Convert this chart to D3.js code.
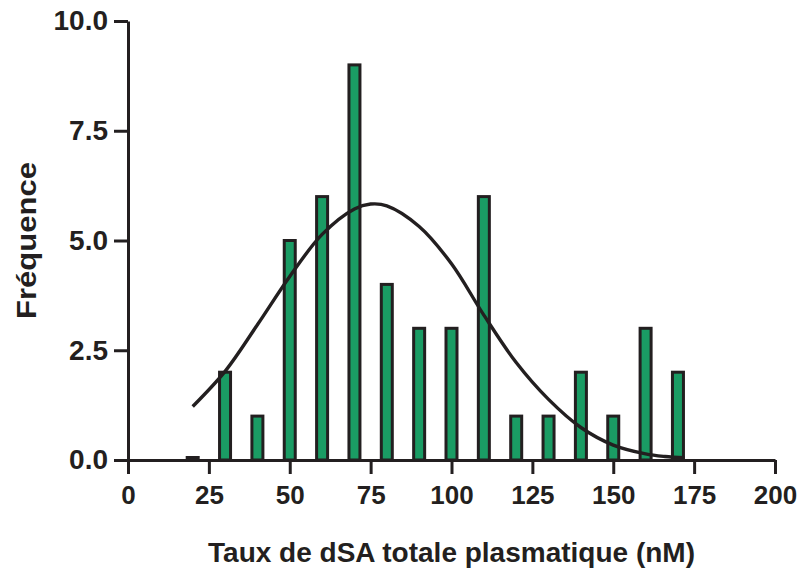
<!DOCTYPE html>
<html>
<head>
<meta charset="utf-8">
<script src="https://cdn.jsdelivr.net/npm/d3@7"></script>
<style>
  html, body { margin: 0; padding: 0; background: #ffffff; }
  svg { display: block; }
  text { font-family: "Liberation Sans", Arial, Helvetica, sans-serif; font-weight: bold; fill: #231f20; }
</style>
</head>
<body>
<div id="chart"></div>
<script>
// Histogram bins (bin centre, nM) and their counts
const binCenters = [20, 30, 40, 50, 60, 70, 80, 90, 100, 110, 120, 130, 140, 150, 160, 170];
const binCounts  = [0, 2, 1, 5, 6, 9, 4, 3, 3, 6, 1, 1, 2, 1, 3, 2];

// Fitted distribution curve, sampled
const fitX = [20, 30, 40, 50, 60, 70, 75, 80, 90, 100, 110, 120, 130, 140, 150, 160, 166, 172];
const fitY = [1.22, 2.02, 3.08, 4.18, 5.14, 5.72, 5.83, 5.79, 5.32, 4.47, 3.30, 2.22, 1.38, 0.74, 0.34, 0.14, 0.08, 0.05];

// Axis ticks
const xTicks = [0, 25, 50, 75, 100, 125, 150, 175, 200];
const yTicks = [0, 2.5, 5, 7.5, 10];

const xTitle = "Taux de dSA totale plasmatique (nM)";
const yTitle = "Fréquence";

const W = 798, H = 570;
const margin = { left: 128, right: 23, top: 21, bottom: 110 };
const ink = "#231f20";
const barFill = "#1a9c64";

const svg = d3.select("#chart").append("svg")
  .attr("width", W).attr("height", H);

const x = d3.scaleLinear().domain([0, 200]).range([margin.left, W - margin.right]);
const y = d3.scaleLinear().domain([0, 10]).range([H - margin.bottom, margin.top]);

const barWidthUnits = 3.4;

// Bars; an empty bin is drawn as a flat outline just above the baseline
svg.append("g").selectAll("rect")
  .data(binCenters.map((c, i) => ({ c, n: binCounts[i] })))
  .join("rect")
  .attr("x", d => x(d.c - barWidthUnits / 2))
  .attr("width", d => x(d.c + barWidthUnits / 2) - x(d.c - barWidthUnits / 2))
  .attr("y", d => d.n === 0 ? y(0) - 2.5 : y(d.n))
  .attr("height", d => d.n === 0 ? 0.1 : y(0) - y(d.n))
  .attr("fill", barFill)
  .attr("stroke", ink)
  .attr("stroke-width", 3);

// Fitted curve
const line = d3.line()
  .x(d => x(d[0]))
  .y(d => y(d[1]))
  .curve(d3.curveCatmullRom.alpha(0.5));

svg.append("path")
  .datum(fitX.map((v, i) => [v, fitY[i]]))
  .attr("d", line)
  .attr("fill", "none")
  .attr("stroke", ink)
  .attr("stroke-width", 3.4);

// X axis
const xAxis = svg.append("g")
  .attr("transform", `translate(0,${y(0)})`)
  .call(d3.axisBottom(x).tickValues(xTicks).tickSize(14).tickSizeOuter(0).tickPadding(12)
    .tickFormat(d3.format("d")));
xAxis.select(".domain").attr("stroke", ink).attr("stroke-width", 3);
xAxis.selectAll(".tick line").attr("stroke", ink).attr("stroke-width", 3);
xAxis.selectAll(".tick text").style("font-size", "26px").attr("fill", ink);

// Y axis
const yAxis = svg.append("g")
  .attr("transform", `translate(${x(0)},0)`)
  .call(d3.axisLeft(y).tickValues(yTicks).tickSize(14).tickSizeOuter(0).tickPadding(6)
    .tickFormat(d3.format(".1f")));
yAxis.select(".domain").attr("stroke", ink).attr("stroke-width", 3);
yAxis.selectAll(".tick line").attr("stroke", ink).attr("stroke-width", 3);
yAxis.selectAll(".tick text").style("font-size", "28px").attr("fill", ink);

// Axis titles
svg.append("text")
  .attr("x", (x(0) + x(200)) / 2)
  .attr("y", 562)
  .attr("text-anchor", "middle")
  .style("font-size", "28px")
  .text(xTitle);

svg.append("text")
  .attr("transform", `translate(36,${(y(0) + y(10)) / 2}) rotate(-90) scale(1.15,1)`)
  .attr("text-anchor", "middle")
  .style("font-size", "27px")
  .text(yTitle);
</script>
</body>
</html>
